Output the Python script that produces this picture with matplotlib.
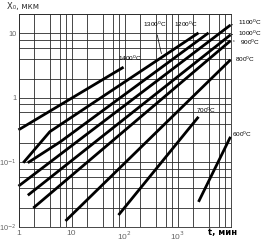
import matplotlib
matplotlib.use("Agg")
import matplotlib.pyplot as plt
from matplotlib.ticker import FixedLocator, NullFormatter

# oxide thickness X0 (um) vs time t (min) for several temperatures
t_1400 = [1, 96]
x_1400 = [0.32, 3.0]
t_1300 = [1.23, 3.9, 2490]
x_1300 = [0.099, 0.30, 10.2]
t_1200 = [1.5, 6.2, 3850]
x_1200 = [0.099, 0.21, 10.2]
t_1100 = [1, 10000]
x_1100 = [0.043, 13.5]
t_1000 = [1.5, 10000]
x_1000 = [0.031, 9.5]
t_900 = [1.9, 10000]
x_900 = [0.0197, 7.7]
t_800 = [7.7, 10000]
x_800 = [0.0124, 3.9]
t_700 = [77, 2490]
x_700 = [0.0153, 0.51]
t_600 = [2490, 10000]
x_600 = [0.0245, 0.25]

xticks = [1, 10, 100, 1000]
xtick_labels = ["1", "10", "10$^2$", "10$^3$"]
yticks = [0.01, 0.1, 1, 10]
ytick_labels = ["10$^{-2}$", "10$^{-1}$", "1", "10"]
grid_subs = [2, 4, 6, 8]

FAM = ["Liberation Sans Narrow", "Liberation Sans", "DejaVu Sans"]
plt.rcParams["font.family"] = FAM


def main():
    fig = plt.figure(figsize=(2.61, 2.41), dpi=100)
    ax = fig.add_axes([18.5 / 261, 14 / 241, 212 / 261, 213 / 241])
    ax.set_xscale("log")
    ax.set_yscale("log")
    ax.set_xlim(1, 1e4)
    ax.set_ylim(0.01, 20)

    # grid at 1, 2, 4, 6, 8 of every decade
    xminor = [s * 10.0 ** d for d in range(0, 4) for s in grid_subs]
    yminor = [s * 10.0 ** d for d in range(-2, 2) for s in grid_subs]
    ax.set_xticks(xticks)
    ax.set_xticklabels(xtick_labels)
    ax.set_yticks(yticks)
    ax.set_yticklabels(ytick_labels)
    ax.xaxis.set_minor_locator(FixedLocator(xminor))
    ax.yaxis.set_minor_locator(FixedLocator(yminor))
    ax.xaxis.set_minor_formatter(NullFormatter())
    ax.yaxis.set_minor_formatter(NullFormatter())
    ax.grid(True, which="both", color="#2a2a2a", lw=0.6)
    ax.tick_params(which="both", length=0, labelsize=6, labelcolor="#666666", pad=2)
    ax.tick_params(axis="y", labelsize=5.3, pad=1.5)
    for s in ax.spines.values():
        s.set_color("#2a2a2a")
        s.set_linewidth(0.6)

    series = [(t_1400, x_1400), (t_1300, x_1300), (t_1200, x_1200),
              (t_1100, x_1100), (t_1000, x_1000), (t_900, x_900),
              (t_800, x_800), (t_700, x_700), (t_600, x_600)]
    for t, x in series:
        ax.plot(t, x, color="black", lw=2, solid_capstyle="butt", clip_on=False)

    kw = dict(fontsize=4.6, color="black", annotation_clip=False, va="center")
    lead = dict(arrowstyle="-", color="black", lw=0.5)
    ax.annotate("1400$^0$C", xy=(127, 4.17), ha="center", **kw)
    ax.annotate("1300$^0$C", xy=(510, 4.4), xytext=(376, 13.6), ha="center",
                arrowprops=lead, **kw)
    ax.annotate("1200$^0$C", xy=(1450, 13.6), ha="center", **kw)
    ax.annotate("1100$^0$C", xy=(10000, 13.5), xytext=(14000, 14.6), ha="left",
                arrowprops=lead, **kw)
    ax.annotate("1000$^0$C", xy=(10000, 9.5), xytext=(14000, 10.2), ha="left",
                arrowprops=lead, **kw)
    ax.annotate("900$^0$C", xy=(10000, 7.7), xytext=(15000, 7.3), ha="left",
                arrowprops=lead, **kw)
    ax.annotate("800$^0$C", xy=(12200, 3.9), ha="left", **kw)
    ax.annotate("700$^0$C", xy=(3450, 0.65), ha="center", **kw)
    ax.annotate("600$^0$C", xy=(10700, 0.27), ha="left", **kw)

    fig.text(7 / 261, 1 - 7 / 241, "X₀, мкм", fontsize=6, va="center",
             family=["DejaVu Sans Condensed", "DejaVu Sans"], color="#333333")
    fig.text(208 / 261, 1 - 232 / 241, "t, мин", fontsize=6, va="center",
             fontweight="bold", family=["DejaVu Sans Condensed", "DejaVu Sans"])

    fig.savefig("out.png", dpi=100)


if __name__ == "__main__":
    main()
